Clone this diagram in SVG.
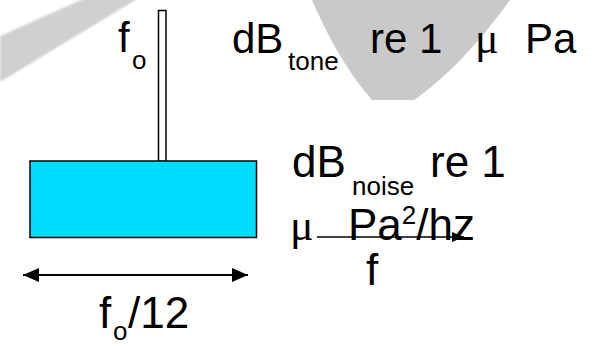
<svg xmlns="http://www.w3.org/2000/svg" width="600" height="346" viewBox="0 0 600 346">
<style>
  .t { font-family: "Liberation Sans", Arial, sans-serif; fill: #000; }
  .m { font-size: 42px; }
  .l { font-size: 44px; }
  .s { font-size: 26px; }
  .g { font-family: "Liberation Serif", "Times New Roman", serif; font-size: 44px; }
  .box { stroke: #000; stroke-width: 1.5; }
  .arr { stroke: #000; stroke-width: 2; fill: none; }
</style>
<defs>
  <marker id="ah" viewBox="0 0 16 14" refX="16" refY="7" markerWidth="16" markerHeight="14" markerUnits="userSpaceOnUse" orient="auto-start-reverse">
    <path d="M0,0 L16,7 L0,14 Z" fill="#000"/>
  </marker>
  <marker id="ah2" viewBox="0 0 12 10" refX="12" refY="5" markerWidth="12" markerHeight="10" markerUnits="userSpaceOnUse" orient="auto">
    <path d="M0,0 L12,5 L0,10 Z" fill="#000"/>
  </marker>
  <filter id="soft" x="-10%" y="-10%" width="120%" height="120%"><feGaussianBlur stdDeviation="1.2"/></filter>
</defs>
<rect width="600" height="346" fill="#fff"/>
<g id="background">
  <polygon points="0,36 90,-4 142,-4 0,82" fill="#d0d0d0" filter="url(#soft)"/>
  <path d="M312,0 C325,30 345,70 372,100 L414,100 C442,80 474,50 510,0 Z" fill="#c9c9c9"/>
</g>
<g id="tone-line">
  <rect class="box" x="158.5" y="10.5" width="7.5" height="151" fill="#fff"/>
</g>
<g id="noise-band">
  <rect class="box" x="30" y="161" width="226.5" height="76.5" fill="#00dcff"/>
</g>
<g id="connectors">
  <line class="arr" x1="23" y1="275" x2="248" y2="275" marker-start="url(#ah)" marker-end="url(#ah)"/>
  <line x1="317" y1="237" x2="464" y2="237" stroke="#000" stroke-width="1.5" marker-end="url(#ah2)"/>
</g>
<g id="labels">
  <text class="t m" x="118" y="52">f</text>
  <text class="t s" x="132" y="69">o</text>
  <text class="t m" x="232" y="53">dB</text>
  <text class="t s" x="288" y="70">tone</text>
  <text class="t m" x="370" y="53">re 1</text>
  <text class="g" x="475" y="53">μ</text>
  <text class="t m" x="525" y="53">Pa</text>
  <text class="t l" x="292" y="177">dB</text>
  <text class="t s" x="352" y="195">noise</text>
  <text class="t l" x="430" y="177">re 1</text>
  <text class="g" x="290" y="240">μ</text>
  <text class="t l" x="348" y="240">Pa<tspan class="s" dy="-16">2</tspan><tspan dy="16">/hz</tspan></text>
  <text class="t l" x="366" y="285">f</text>
  <text class="t l" x="99" y="328">f</text>
  <text class="t s" x="113" y="340">o</text>
  <text class="t l" x="128" y="328">/12</text>
</g>
</svg>
